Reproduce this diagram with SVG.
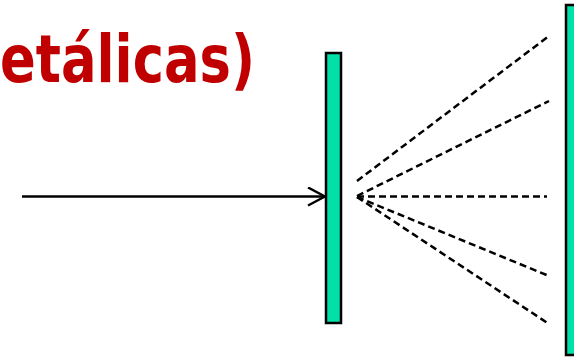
<svg xmlns="http://www.w3.org/2000/svg" width="574" height="360" viewBox="0 0 574 360">
<style>
.plate{fill:#00E0A8;stroke:#000;stroke-width:2.5}
.ray{stroke:#000;stroke-width:2.5;fill:none}
.dash{stroke:#000;stroke-width:2.5;fill:none;stroke-dasharray:7,4}
.title{font-family:"DejaVu Sans Condensed","DejaVu Sans",sans-serif;font-weight:bold;font-size:66px;fill:#C00000}
</style>
<defs>
<marker id="open" viewBox="0 0 20 20" refX="18" refY="10" markerWidth="20" markerHeight="20" markerUnits="userSpaceOnUse" orient="auto">
<polyline points="1,1 18,10 1,19" fill="none" stroke="#000" stroke-width="2.5"/>
</marker>
</defs>
<rect width="574" height="360" fill="#fff"/>
<text class="title" x="0" y="82" textLength="255" lengthAdjust="spacingAndGlyphs">etálicas)</text>
<g id="plate1"><rect class="plate" x="326" y="53" width="15" height="270"/></g>
<g id="plate2"><rect class="plate" x="566" y="5" width="15" height="350"/></g>
<g id="connectors">
<line class="ray" x1="22" y1="196.5" x2="325" y2="196.5" marker-end="url(#open)"/>
<line class="dash" x1="357" y1="181" x2="549" y2="36"/>
<line class="dash" x1="357" y1="196" x2="549" y2="101"/>
<line class="dash" x1="357" y1="196.5" x2="547" y2="196.5"/>
<line class="dash" x1="357" y1="197" x2="549" y2="276"/>
<line class="dash" x1="357" y1="197" x2="549" y2="324"/>
</g>
</svg>
